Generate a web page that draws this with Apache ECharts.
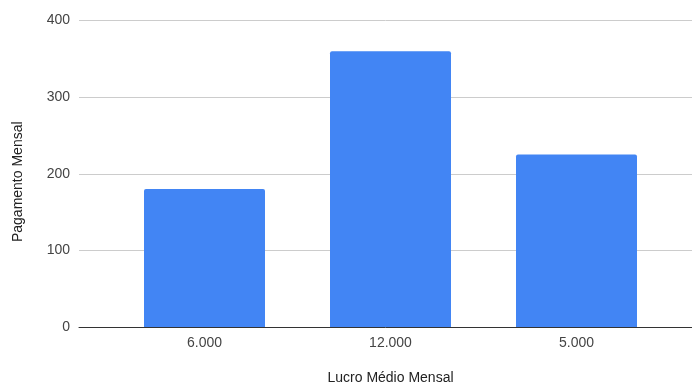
<!DOCTYPE html>
<html>
<head>
<meta charset="utf-8">
<script src="https://cdn.jsdelivr.net/npm/echarts@6/dist/echarts.min.js"></script>
<style>
  html, body { margin: 0; padding: 0; background: #fff; }
  #chart { width: 692px; height: 383px; }
</style>
</head>
<body>
<div id="chart"></div>
<script>
const categories = ["6.000", "12.000", "5.000"];
const payments = [180, 360, 225];
const yTicks = { min: 0, max: 400, interval: 100 };

const FONT = '"Liberation Sans", Arial, sans-serif';
const TEXT = "#444444";

const chart = echarts.init(document.getElementById("chart"), null, { renderer: "canvas" });

chart.setOption({
  animation: false,
  textStyle: { fontFamily: FONT, color: TEXT },
  grid: [
    // frame: gridlines, y labels and baseline span the full width
    { left: 79, right: 0, top: 20.5, bottom: 56, outerBoundsMode: "none", containLabel: false },
    // bars sit in a narrower band, as in the original
    { left: 111.5, right: 22.5, top: 20.5, bottom: 56, outerBoundsMode: "none", containLabel: false },
  ],
  xAxis: [
    {
      type: "category",
      gridIndex: 0,
      data: [""],
      axisLine: { show: true, lineStyle: { color: "#333333", width: 1 } },
      axisTick: { show: false },
      axisLabel: { show: false },
      splitLine: { show: false },
    },
    {
      type: "category",
      gridIndex: 1,
      data: categories,
      axisLine: { show: false },
      axisTick: { show: false },
      axisLabel: { color: TEXT, fontSize: 14, fontFamily: FONT, margin: 9 },
      name: "Lucro Médio Mensal",
      nameLocation: "middle",
      nameGap: 44,
      nameTextStyle: { color: "#222222", fontSize: 14, fontFamily: FONT },
    },
  ],
  yAxis: [
    {
      type: "value",
      gridIndex: 0,
      min: yTicks.min,
      max: yTicks.max,
      interval: yTicks.interval,
      axisLine: { show: false },
      axisTick: { show: false },
      axisLabel: { color: TEXT, fontSize: 14, fontFamily: FONT, margin: 9 },
      splitLine: { lineStyle: { color: "#cccccc", width: 1 } },
      name: "Pagamento Mensal",
      nameLocation: "middle",
      nameRotate: 90,
      nameGap: 54,
      nameTextStyle: { color: "#222222", fontSize: 14, fontFamily: FONT, padding: [0, 16, 0, 0] },
    },
    {
      type: "value",
      gridIndex: 1,
      min: yTicks.min,
      max: yTicks.max,
      interval: yTicks.interval,
      show: false,
    },
  ],
  series: [
    {
      type: "bar",
      xAxisIndex: 1,
      yAxisIndex: 1,
      data: payments,
      barWidth: 121,
      itemStyle: { color: "#4285f4", borderRadius: [2, 2, 0, 0] },
      z: 3,
    },
  ],
});
</script>
</body>
</html>
